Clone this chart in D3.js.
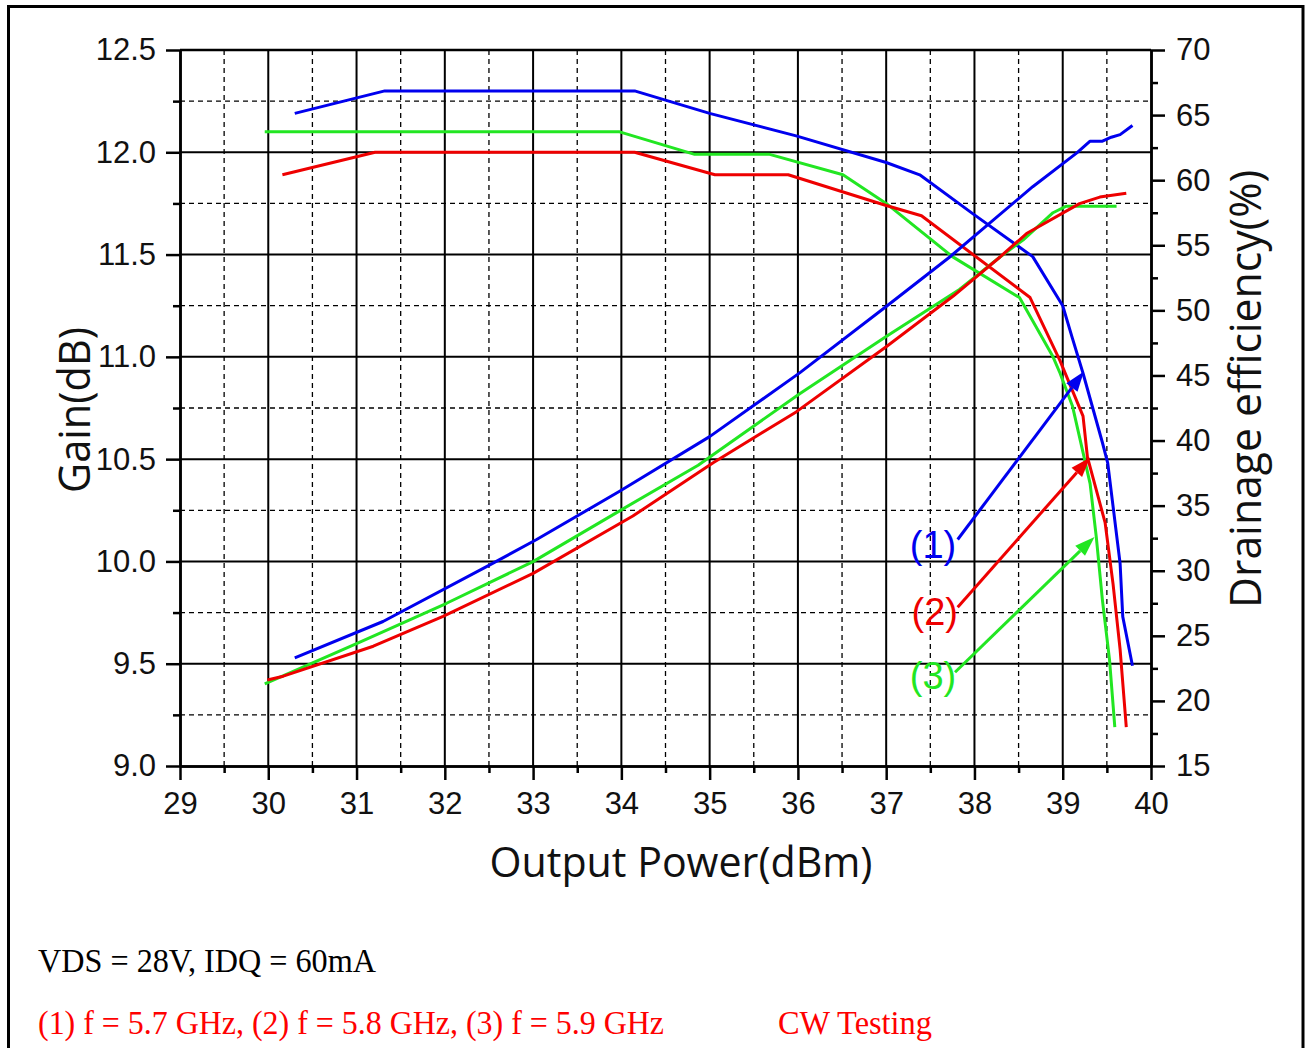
<!DOCTYPE html>
<html><head><meta charset="utf-8">
<script src="https://cdn.jsdelivr.net/npm/d3@7"></script>
<style>html,body{margin:0;padding:0;background:#fff;}svg{display:block;}</style>
</head><body>
<script>
// ---------- DATA ----------
const seriesNames = ["(1)", "(2)", "(3)"];
const seriesColors = ["#0000ee", "#ee0000", "#22e622"];

// Gain (dB) vs Output Power (dBm)
const gain1 = [[30.30,12.19],[31.32,12.30],[34.15,12.30],[35.0,12.19],[35.98,12.08],[37.0,11.95],[37.38,11.89],[37.98,11.70],[38.66,11.49],[39.0,11.25],[39.11,11.09],[39.23,10.92],[39.45,10.58],[39.51,10.48],[39.65,9.99],[39.68,9.73],[39.79,9.49]];
const gain2 = [[30.16,11.89],[31.21,12.0],[34.15,12.0],[35.06,11.89],[35.89,11.89],[37.0,11.74],[37.40,11.69],[38.63,11.29],[38.97,10.98],[39.23,10.71],[39.28,10.51],[39.48,10.19],[39.57,9.89],[39.65,9.57],[39.72,9.19]];
const gain3 = [[29.96,12.1],[33.98,12.1],[34.83,11.99],[35.68,11.99],[36.51,11.89],[37.0,11.75],[37.75,11.49],[38.51,11.29],[38.89,11.0],[38.97,10.92],[39.11,10.76],[39.31,10.38],[39.38,10.12],[39.45,9.81],[39.53,9.52],[39.59,9.19]];

// Drainage efficiency (%) vs Output Power (dBm)
const eff1 = [[30.30,23.3],[31.30,26.1],[32.51,30.45],[33.04,32.4],[33.98,36.1],[35.0,40.3],[36.02,45.2],[37.0,50.3],[37.72,54.1],[38.66,59.5],[39.16,62.1],[39.31,63.0],[39.45,63.0],[39.55,63.3],[39.65,63.5],[39.79,64.2]];
const eff2 = [[29.99,21.6],[30.17,21.9],[31.19,24.2],[31.98,26.5],[33.0,29.8],[34.13,34.2],[35.04,38.3],[35.98,42.2],[37.0,47.2],[37.76,51.1],[38.29,54.1],[38.59,55.9],[39.19,58.2],[39.42,58.7],[39.72,59.0]];
const eff3 = [[29.96,21.3],[31.0,24.4],[32.02,27.5],[33.0,30.7],[33.98,34.6],[34.87,38.1],[36.02,43.6],[37.0,48.0],[37.83,51.6],[38.29,54.1],[38.55,55.4],[38.89,57.5],[39.04,58.0],[39.16,58.0],[39.61,58.0]];

// Annotations (data coords: x = dBm, y = efficiency %)
const annoLabelPos = [[37.53,32.0],[37.55,26.8],[37.53,21.9]];
const annoStart = [[37.81,32.4],[37.81,27.2],[37.78,22.2]];
const annoEnd = [[39.24,45.3],[39.31,38.7],[39.36,32.6]];

// Axes
const xMajor = [29,30,31,32,33,34,35,36,37,38,39,40];
const xMinor = [29.5,30.5,31.5,32.5,33.5,34.5,35.5,36.5,37.5,38.5,39.5];
const gainMajor = [9.0,9.5,10.0,10.5,11.0,11.5,12.0,12.5];
const gainMinor = [9.25,9.75,10.25,10.75,11.25,11.75,12.25];
const effMajor = [15,20,25,30,35,40,45,50,55,60,65,70];
const effMinor = [17.5,22.5,27.5,32.5,37.5,42.5,47.5,52.5,57.5,62.5,67.5];

const xTitle = "Output Power(dBm)";
const yLeftTitle = "Gain(dB)";
const yRightTitle = "Drainage efficiency(%)";
const note1 = "VDS = 28V, IDQ = 60mA";
const note2 = "(1) f = 5.7 GHz, (2) f = 5.8 GHz, (3) f = 5.9 GHz";
const note3 = "CW Testing";

// ---------- CHART ----------
const W = 1308, H = 1048;
const L = 180, R = 1151, T = 50, B = 766;
const svg = d3.select("body").append("svg").attr("width", W).attr("height", H);

const x = d3.scaleLinear().domain([29, 40]).range([L, R]);
const yG = d3.scaleLinear().domain([9, 12.5]).range([B, T]);
const yE = d3.scaleLinear().domain([15, 70]).range([B, T]);

// outer frame
svg.append("rect").attr("x", 8.5).attr("y", 6.5).attr("width", 1294.5).attr("height", 1200)
  .attr("fill", "none").attr("stroke", "#000").attr("stroke-width", 3);

const g = svg.append("g");
// grid
g.selectAll(".vmaj").data(xMajor.filter(v => v > 29 && v < 40)).enter().append("line")
  .attr("x1", d => x(d)).attr("x2", d => x(d)).attr("y1", T).attr("y2", B)
  .attr("stroke", "#000").attr("stroke-width", 2);
g.selectAll(".vmin").data(xMinor).enter().append("line")
  .attr("x1", d => x(d)).attr("x2", d => x(d)).attr("y1", T).attr("y2", B)
  .attr("stroke", "#000").attr("stroke-width", 1.3).attr("stroke-dasharray", "5,4");
g.selectAll(".hmaj").data(gainMajor.filter(v => v > 9 && v < 12.5)).enter().append("line")
  .attr("y1", d => yG(d)).attr("y2", d => yG(d)).attr("x1", L).attr("x2", R)
  .attr("stroke", "#000").attr("stroke-width", 2);
g.selectAll(".hmin").data(gainMinor).enter().append("line")
  .attr("y1", d => yG(d)).attr("y2", d => yG(d)).attr("x1", L).attr("x2", R)
  .attr("stroke", "#000").attr("stroke-width", 1.3).attr("stroke-dasharray", "5,4");

// top border
g.append("line").attr("x1", L).attr("x2", R).attr("y1", T).attr("y2", T)
  .attr("stroke", "#000").attr("stroke-width", 2.5);

const tickFont = "'Liberation Sans', Arial, sans-serif";
function styleAxis(sel) {
  sel.select(".domain").attr("stroke", "#000").attr("stroke-width", 2.5);
  sel.selectAll(".tick line").attr("stroke", "#000").attr("stroke-width", 2.5);
  sel.selectAll("text").attr("font-family", tickFont).attr("font-size", 31).attr("fill", "#111");
}

// left axis
const axL = g.append("g").attr("transform", `translate(${L},0)`)
  .call(d3.axisLeft(yG).tickValues(gainMajor).tickFormat(d3.format(".1f")).tickSize(14).tickSizeOuter(0).tickPadding(10));
styleAxis(axL);
const axLm = g.append("g").attr("transform", `translate(${L},0)`)
  .call(d3.axisLeft(yG).tickValues(gainMinor).tickFormat("").tickSize(7).tickSizeOuter(0));
styleAxis(axLm);

// right axis
const axR = g.append("g").attr("transform", `translate(${R},0)`)
  .call(d3.axisRight(yE).tickValues(effMajor).tickFormat(d3.format("d")).tickSize(14).tickSizeOuter(0).tickPadding(11));
styleAxis(axR);
const axRm = g.append("g").attr("transform", `translate(${R},0)`)
  .call(d3.axisRight(yE).tickValues(effMinor).tickFormat("").tickSize(7).tickSizeOuter(0));
styleAxis(axRm);

// bottom axis
const axB = g.append("g").attr("transform", `translate(0,${B})`)
  .call(d3.axisBottom(x).tickValues(xMajor).tickFormat(d3.format("d")).tickSize(14).tickSizeOuter(0).tickPadding(12));
styleAxis(axB);
const axBm = g.append("g").attr("transform", `translate(0,${B})`)
  .call(d3.axisBottom(x).tickValues(xMinor).tickFormat("").tickSize(7).tickSizeOuter(0));
styleAxis(axBm);

// curves
const lineG = d3.line().x(d => x(d[0])).y(d => yG(d[1]));
const lineE = d3.line().x(d => x(d[0])).y(d => yE(d[1]));
const gains = [gain1, gain2, gain3];
const effs = [eff1, eff2, eff3];
const drawOrder = [0, 2, 1];
drawOrder.forEach(i => {
  g.append("path").datum(gains[i]).attr("d", lineG).attr("fill", "none")
    .attr("stroke", seriesColors[i]).attr("stroke-width", 3).attr("stroke-linejoin", "round");
});
drawOrder.forEach(i => {
  g.append("path").datum(effs[i]).attr("d", lineE).attr("fill", "none")
    .attr("stroke", seriesColors[i]).attr("stroke-width", 3).attr("stroke-linejoin", "round");
});

// annotations
seriesNames.forEach((name, i) => {
  const x0 = x(annoStart[i][0]), y0 = yE(annoStart[i][1]);
  const x1 = x(annoEnd[i][0]), y1 = yE(annoEnd[i][1]);
  const ang = Math.atan2(y1 - y0, x1 - x0);
  const hl = 20, hw = 7;
  const bx = x1 - hl * Math.cos(ang), by = y1 - hl * Math.sin(ang);
  g.append("line").attr("x1", x0).attr("y1", y0).attr("x2", bx).attr("y2", by)
    .attr("stroke", seriesColors[i]).attr("stroke-width", 3);
  const p = [[x1, y1],
    [bx + hw * Math.sin(ang), by - hw * Math.cos(ang)],
    [bx - hw * Math.sin(ang), by + hw * Math.cos(ang)]];
  g.append("path").attr("d", "M" + p.map(q => q.join(",")).join("L") + "Z")
    .attr("fill", seriesColors[i]);
  g.append("text").attr("x", x(annoLabelPos[i][0])).attr("y", yE(annoLabelPos[i][1]))
    .attr("text-anchor", "middle").attr("dominant-baseline", "central")
    .attr("font-family", tickFont).attr("font-size", 38).attr("fill", seriesColors[i])
    .text(name);
});

// axis titles
const titleFont = "'Open Sans', 'Noto Sans', sans-serif";
svg.append("text").attr("x", 681).attr("y", 877).attr("text-anchor", "middle")
  .attr("font-family", titleFont).attr("font-size", 42).attr("fill", "#111")
  .attr("textLength", 383).attr("lengthAdjust", "spacingAndGlyphs").text(xTitle);
svg.append("text").attr("transform", "translate(90,410) rotate(-90)").attr("text-anchor", "middle")
  .attr("font-family", titleFont).attr("font-size", 44).attr("fill", "#111")
  .attr("textLength", 166).attr("lengthAdjust", "spacingAndGlyphs").text(yLeftTitle);
svg.append("text").attr("transform", "translate(1261,389) rotate(-90)").attr("text-anchor", "middle")
  .attr("font-family", titleFont).attr("font-size", 44).attr("fill", "#111")
  .attr("textLength", 438).attr("lengthAdjust", "spacingAndGlyphs").text(yRightTitle);

// notes
const serif = "'Liberation Serif', 'Times New Roman', serif";
svg.append("text").attr("x", 38).attr("y", 972).attr("font-family", serif).attr("font-size", 34)
  .attr("fill", "#000").attr("textLength", 338).attr("lengthAdjust", "spacingAndGlyphs").text(note1);
svg.append("text").attr("x", 38).attr("y", 1034).attr("font-family", serif).attr("font-size", 34)
  .attr("fill", "#ff0000").attr("textLength", 626).attr("lengthAdjust", "spacingAndGlyphs").text(note2);
svg.append("text").attr("x", 778).attr("y", 1034).attr("font-family", serif).attr("font-size", 34)
  .attr("fill", "#ff0000").attr("textLength", 154).attr("lengthAdjust", "spacingAndGlyphs").text(note3);
</script>
</body></html>
